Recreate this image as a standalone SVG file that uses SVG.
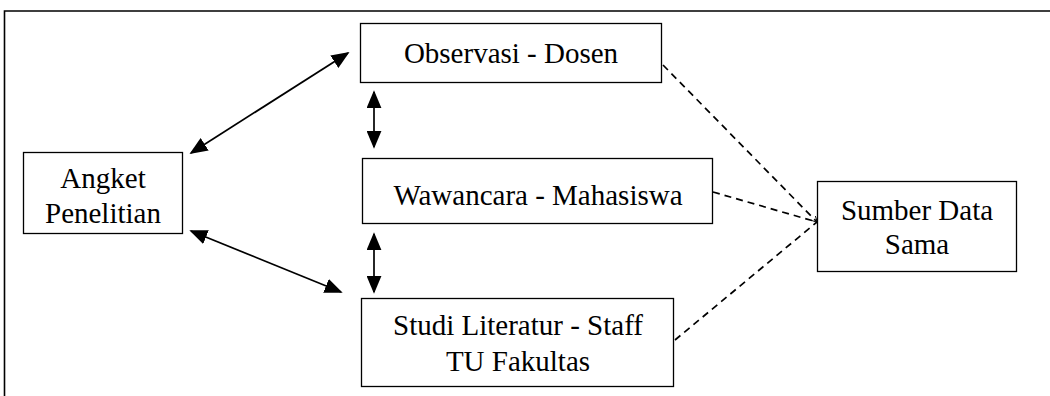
<svg xmlns="http://www.w3.org/2000/svg" width="1050" height="396" viewBox="0 0 1050 396">
<style>
.box{fill:#fff;stroke:#000;stroke-width:1.3}
.t{font-size:29px;fill:#000;text-anchor:middle}
.a{stroke:#000;stroke-width:1.7;fill:none;marker-start:url(#ah);marker-end:url(#ah)}
.d{stroke:#000;stroke-width:1.7;fill:none;stroke-dasharray:7 5}
</style>
<defs>
<marker id="ah" viewBox="0 0 10 10" refX="9" refY="5" markerWidth="18" markerHeight="15" markerUnits="userSpaceOnUse" orient="auto-start-reverse" preserveAspectRatio="none">
<path d="M0,0 L10,5 L0,10 Z" fill="#000"/>
</marker>
<marker id="oh" viewBox="0 0 10 10" refX="9" refY="5" markerWidth="6" markerHeight="6" markerUnits="userSpaceOnUse" orient="auto">
<path d="M0,0 L10,5 L0,10" fill="none" stroke="#000" stroke-width="1.5"/>
</marker>
</defs>
<rect width="1050" height="396" fill="#fff"/>
<path d="M4.5,396 V11 H1050" fill="none" stroke="#000" stroke-width="1.6"/>
<g id="connectors">
<line class="a" x1="191" y1="153" x2="348" y2="53"/>
<line class="a" x1="191" y1="231" x2="341" y2="292"/>
<line class="a" x1="374" y1="92" x2="374" y2="147"/>
<line class="a" x1="374" y1="234" x2="374" y2="292"/>
<line class="d" x1="663" y1="65" x2="817" y2="222" marker-end="url(#oh)"/>
<line class="d" x1="713" y1="192" x2="817" y2="222"/>
<line class="d" x1="675" y1="340" x2="817" y2="222"/>
</g>
<g font-family="Liberation Serif, Times New Roman, serif">
<g id="angket">
<rect class="box" x="23.5" y="152.5" width="159" height="81"/>
<text class="t" x="103" y="188">Angket</text>
<text class="t" x="103" y="223">Penelitian</text>
</g>
<g id="observasi">
<rect class="box" x="360.5" y="23.5" width="301" height="59"/>
<text class="t" x="511" y="63">Observasi - Dosen</text>
</g>
<g id="wawancara">
<rect class="box" x="362.5" y="158.5" width="350" height="65"/>
<text class="t" x="538" y="205">Wawancara - Mahasiswa</text>
</g>
<g id="studi">
<rect class="box" x="361.5" y="298.5" width="312" height="88"/>
<text class="t" x="518" y="335">Studi Literatur - Staff</text>
<text class="t" x="518" y="371">TU Fakultas</text>
</g>
<g id="sumber">
<rect class="box" x="817.5" y="181.5" width="199" height="90"/>
<text class="t" x="917" y="220">Sumber Data</text>
<text class="t" x="917" y="254">Sama</text>
</g>
</g>
</svg>
